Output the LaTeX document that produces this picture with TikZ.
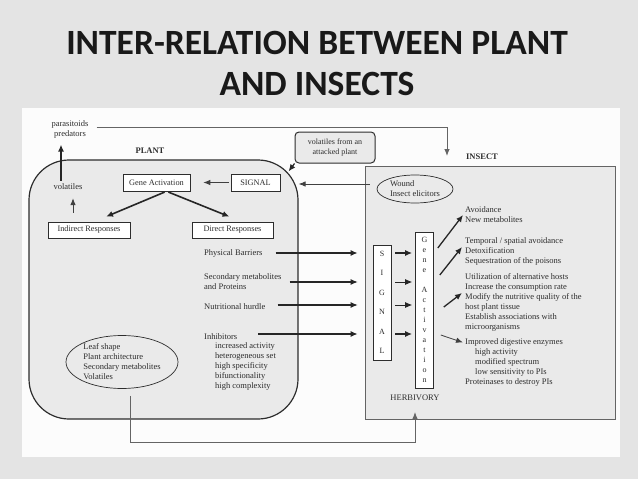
\documentclass[tikz,border=0pt]{standalone}
\usepackage{fontspec}
\setmainfont{Liberation Serif}
\newfontfamily\titlefont{Carlito}
\usepackage{tikz}
\usetikzlibrary{shapes.geometric, arrows.meta}

\definecolor{slidegray}{RGB}{228,228,228}
\definecolor{panelwhite}{RGB}{252,252,252}
\definecolor{boxgray}{RGB}{234,234,234}
\definecolor{inkgray}{RGB}{45,45,45}
\definecolor{linegray}{RGB}{100,100,100}

\tikzstyle{titletext} = [align=center, font=\titlefont\bfseries\fontsize{35.5}{41}\selectfont, text=black!90]
\tikzstyle{plantbox} = [rectangle, rounded corners=40pt, minimum width=269pt, minimum height=259pt, draw=inkgray, line width=1.2pt, fill=boxgray]
\tikzstyle{insectbox} = [rectangle, minimum width=250pt, minimum height=253pt, draw=linegray, line width=0.9pt, fill=boxgray]
\tikzstyle{smallbox} = [rectangle, draw=inkgray, fill=white, line width=0.6pt, inner sep=0pt, minimum height=17pt, font=\fontsize{8.3}{9}\selectfont, text=inkgray]
\tikzstyle{roundbox} = [rectangle, rounded corners=4pt, draw=inkgray, fill=boxgray, line width=1pt, minimum width=80pt, minimum height=31pt, inner sep=0pt, align=center, font=\fontsize{8}{10}\selectfont, text=inkgray]
\tikzstyle{vbox} = [rectangle, draw=inkgray, fill=white, line width=0.6pt, inner sep=0pt, minimum width=18pt, align=center, text=inkgray]
\tikzstyle{txt} = [inner sep=0pt, align=left, font=\fontsize{8.5}{10}\selectfont, text=inkgray]
\tikzstyle{headtxt} = [inner sep=0pt, font=\bfseries\fontsize{8.5}{9}\selectfont, text=inkgray]
\tikzstyle{oval} = [ellipse, draw=inkgray, line width=0.7pt, inner sep=0pt, align=left, font=\fontsize{8.5}{10}\selectfont, text=inkgray]
\tikzstyle{thickarrow} = [line width=1.6pt, -{Latex[length=7pt,width=6pt]}, black!85]
\tikzstyle{thinarrow} = [line width=0.8pt, -{Latex[length=7pt,width=5.5pt]}, black!75]
\tikzstyle{thinline} = [line width=0.9pt, linegray]

\begin{document}
\begin{tikzpicture}[x=1pt, y=-1pt]
\useasboundingbox (0,0) rectangle (638,479);
\fill [slidegray] (0,0) rectangle (638,479);
\fill [panelwhite] (22,108) rectangle (620,457);

\node (title) [titletext] at (317,63) {INTER-RELATION BETWEEN PLANT\\AND INSECTS};

% the two worlds
\node (plant) [plantbox] at (163.5,289.5) {};

\node (insect) [insectbox] at (490,292.5) {};

\node (plantlbl) [headtxt] at (150,151) {PLANT};

\node (insectlbl) [headtxt] at (482,157) {INSECT};

\coordinate (insectin) at (447,156);

% plant side
\node (para) [txt, align=center] at (70,129.5) {parasitoids\\predators};

\node (vap) [roundbox] at (335,147.5) {volatiles from an\\attacked plant};

\node (gene) [smallbox, minimum width=67pt] at (156.5,182.5) {Gene Activation};

\node (signal) [smallbox, minimum width=49pt] at (255.5,182.5) {SIGNAL};

\node (vol) [txt] at (68,187) {volatiles};

\node (ind) [smallbox, minimum width=82pt, minimum height=16pt] at (89,230) {Indirect Responses};

\node (dir) [smallbox, minimum width=81pt, minimum height=16pt] at (232.5,230) {Direct Responses};

\node (barrier) [txt, anchor=west] at (204,253) {Physical Barriers};

\node (secmet) [txt, anchor=west] at (204,282) {Secondary metabolites\\and Proteins};

\node (nutri) [txt, anchor=west] at (204,307) {Nutritional hurdle};

\node (inhib) [txt, anchor=west] at (204,337) {Inhibitors};

\node (inhiblist) [txt, anchor=north west] at (215,342.5) {increased activity\\heterogeneous set\\high specificity\\bifunctionality\\high complexity};

\node (leaf) [oval, minimum width=112pt, minimum height=53pt] at (122,362) {Leaf shape\\Plant architecture\\Secondary metabolites\\Volatiles};

% insect side
\node (wound) [oval, minimum width=76pt, minimum height=28pt] at (415,189) {Wound\\Insect elicitors};

\node (sig) [vbox, font=\fontsize{8}{19.5}\selectfont, minimum height=115pt] at (382,302.5) {S\\I\\G\\N\\A\\L};

\node (geneact) [vbox, font=\fontsize{8}{10}\selectfont, minimum height=156pt] at (424.5,310) {G\\e\\n\\e\\[10pt]A\\c\\t\\i\\v\\a\\t\\i\\o\\n};

\node (herb) [txt] at (415,398) {HERBIVORY};

\node (out1) [txt, anchor=west] at (465,215) {Avoidance\\New metabolites};

\node (out2) [txt, anchor=west] at (465,251) {Temporal / spatial avoidance\\Detoxification\\Sequestration of the poisons};

\node (out3) [txt, anchor=west] at (465,302) {Utilization of alternative hosts\\Increase the consumption rate\\Modify the nutritive quality of the\\host plant tissue\\Establish associations with\\microorganisms};

\node (out4) [txt, anchor=west] at (465,362.5) {Improved digestive enzymes\\\hspace*{10pt}high activity\\\hspace*{10pt}modified spectrum\\\hspace*{10pt}low sensitivity to PIs\\Proteinases to destroy PIs};

\coordinate (woundout) at ([xshift=-7pt,yshift=5pt]wound.west);

% connectors
\draw [thinline, -{Latex[length=7pt,width=5.5pt]}] ([xshift=8pt,yshift=2pt]para.east) -| (insectin);

\draw [thickarrow, shorten <=3pt, shorten >=6pt] ([xshift=-7pt]vol.north) -- ([xshift=-9pt]para.south);

\draw [thinarrow, shorten <=9pt, shorten >=8pt] ([xshift=-16pt]ind.north) -- ([xshift=5pt]vol.south);

\draw [thinarrow, shorten <=2pt, shorten >=13pt] (signal.west) -- (gene.east);

\draw [thickarrow, shorten <=2pt] ([xshift=10pt]gene.south) -- ([xshift=17pt,yshift=5pt]ind.north);

\draw [thickarrow, shorten <=2pt] ([xshift=10pt]gene.south) -- ([xshift=-3pt,yshift=5pt]dir.north);

\draw [thickarrow, line width=1.2pt] (vap.south west) -- ([xshift=-10pt,yshift=-12pt]plant.north east);

\draw [thinarrow] (woundout) -- (woundout -| plant.east);

\draw [thickarrow, shorten <=13pt, shorten >=15pt] (barrier.east) -- (barrier.east -| sig.west);

\draw [thickarrow, line width=1.1pt, shorten <=8pt, shorten >=15pt] (secmet.east) -- (secmet.east -| sig.west);

\draw [thickarrow, line width=1.1pt, shorten <=12pt, shorten >=15pt] ([yshift=2pt]nutri.east) -- ([yshift=2pt]nutri.east -| sig.west);

\draw [thickarrow, shorten <=21pt, shorten >=15pt] ([yshift=3pt]inhib.east) -- ([yshift=3pt]inhib.east -| sig.west);

\draw [thickarrow, shorten <=4pt, shorten >=3pt] (sig.east |- barrier.east) -- (geneact.west |- barrier.east);

\draw [thickarrow, line width=0.9pt, shorten <=4pt, shorten >=3pt] (sig.east |- secmet.east) -- (geneact.west |- secmet.east);

\draw [thickarrow, line width=0.9pt, shorten <=4pt, shorten >=3pt] ([yshift=2pt]sig.east |- nutri.east) -- ([yshift=2pt]geneact.west |- nutri.east);

\draw [thickarrow, shorten <=4pt, shorten >=3pt] ([yshift=3pt]sig.east |- inhib.east) -- ([yshift=3pt]geneact.west |- inhib.east);

\draw [thickarrow, line width=1.3pt] ([xshift=4pt,yshift=62pt]geneact.east) -- ([xshift=-2pt]out1.west);

\draw [thickarrow, line width=1.3pt] ([xshift=6pt,yshift=35pt]geneact.east) -- ([xshift=-3pt,yshift=4pt]out2.west);

\draw [thickarrow, line width=1.3pt] ([xshift=10pt,yshift=3pt]geneact.east) -- ([xshift=-3pt,yshift=9pt]out3.west);

\draw [thinarrow] ([xshift=7pt,yshift=-25pt]geneact.east) -- ([xshift=-2pt,yshift=20pt]out4.west);

\draw [thinline, -{Latex[length=7pt,width=5.5pt]}, shorten <=7pt, shorten >=11pt] ([xshift=8pt]leaf.south) -- ++(0,54) -| (herb.south);

\end{tikzpicture}
\end{document}
